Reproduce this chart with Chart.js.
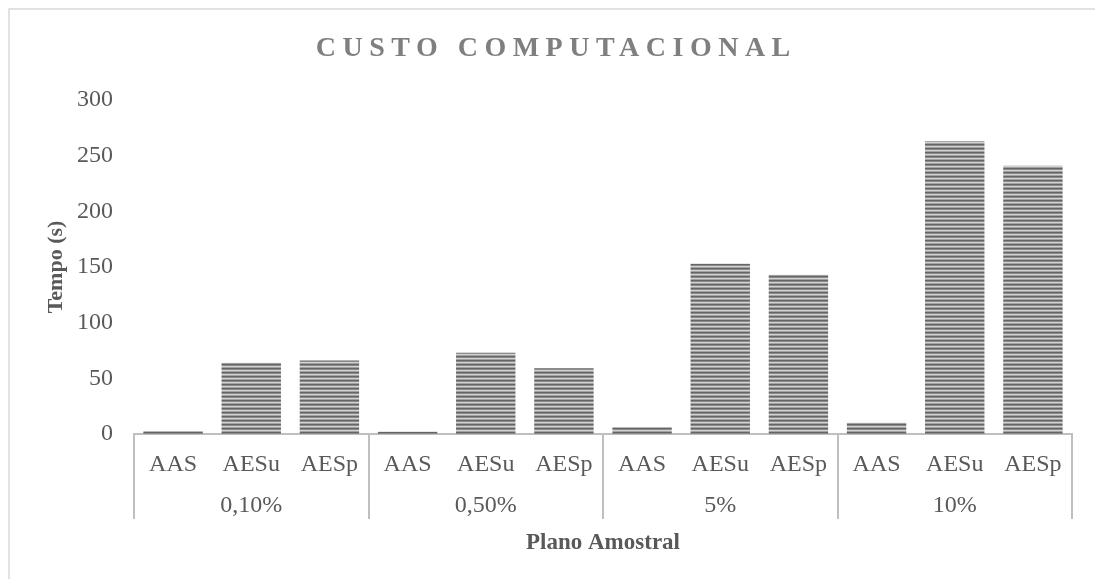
<!DOCTYPE html>
<html>
<head>
<meta charset="utf-8">
<title>Custo Computacional</title>
<script src="https://cdn.jsdelivr.net/npm/chart.js@4.4.1/dist/chart.umd.min.js"></script>
<style>
  html, body { margin: 0; padding: 0; background: #ffffff; }
  #wrap { width: 1095px; height: 579px; position: relative; }
</style>
</head>
<body>
<div id="wrap"><canvas id="custo"></canvas></div>
<script>
// Chart data
const methods = ['AAS', 'AESu', 'AESp'];
const samplePlans = ['0,10%', '0,50%', '5%', '10%'];
const tempos = [2.5, 64, 66, 2, 73, 59, 6, 153, 143, 10, 263, 241];
const yTicks = [0, 50, 100, 150, 200, 250, 300];

// two-line labels: method on top, sample plan under the middle bar of each group
const labels = [];
samplePlans.forEach(function (plan) {
  methods.forEach(function (m, j) {
    labels.push([m, j === 1 ? plan : '']);
  });
});

const FONT = "'Liberation Serif', 'Times New Roman', serif";
const TEXT = '#595959';
const LINE = '#bfbfbf';

// striped grey fill like the original bars
function stripePattern() {
  const tile = document.createElement('canvas');
  tile.width = 4;
  tile.height = 4;
  const t = tile.getContext('2d');
  const rows = ['#656565', '#8a8a8a', '#d2d2d2', '#a2a2a2'];
  rows.forEach(function (c, i) {
    t.fillStyle = c;
    t.fillRect(0, i, 4, 1);
  });
  return t.createPattern(tile, 'repeat');
}

// frame and spaced-out title
const decorations = {
  id: 'decorations',
  beforeDraw: function (chart) {
    const ctx = chart.ctx;
    ctx.save();
    ctx.strokeStyle = '#d9d9d9';
    ctx.lineWidth = 1.5;
    ctx.strokeRect(9, 9, 2000, 2000);
    ctx.restore();
  },
  afterDraw: function (chart) {
    const ctx = chart.ctx;
    const text = 'CUSTO COMPUTACIONAL';
    const spacing = 6.5;
    ctx.save();
    ctx.font = 'bold 28px ' + FONT;
    ctx.fillStyle = '#7f7f7f';
    ctx.letterSpacing = spacing + 'px';
    ctx.textBaseline = 'middle';
    ctx.textAlign = 'left';
    const w = ctx.measureText(text).width - spacing;
    ctx.fillText(text, 553 - w / 2, 49);
    ctx.restore();
  }
};

Chart.defaults.font.family = FONT;
Chart.defaults.color = TEXT;

const custoChart = new Chart(document.getElementById('custo'), {
  type: 'bar',
  data: {
    labels: labels,
    datasets: [{
      label: 'Tempo (s)',
      data: tempos,
      backgroundColor: stripePattern(),
      borderWidth: 0,
      barPercentage: 0.76,
      categoryPercentage: 1
    }]
  },
  options: {
    responsive: true,
    maintainAspectRatio: false,
    animation: false,
    layout: {
      padding: { top: 100, right: 23, bottom: 18, left: 43 }
    },
    plugins: {
      legend: { display: false },
      tooltip: { enabled: false }
    },
    scales: {
      x: {
        afterFit: function (scale) {
          scale.height = 127;
        },
        grid: {
          offset: true,
          drawOnChartArea: false,
          drawTicks: true,
          tickLength: 85,
          lineWidth: 2,
          color: function (c) {
            return (c.index === undefined || c.index % 3 === 0) ? LINE : 'rgba(0,0,0,0)';
          }
        },
        border: { display: true, color: LINE, width: 2 },
        ticks: {
          padding: -74.5,
          maxRotation: 0,
          autoSkip: false,
          color: TEXT,
          font: { size: 24, lineHeight: 41 / 24 }
        },
        title: {
          display: true,
          text: 'Plano Amostral',
          color: TEXT,
          font: { size: 23, weight: 'bold' },
          padding: { top: 3, bottom: 4 }
        }
      },
      y: {
        min: 0,
        max: 300,
        afterBuildTicks: function (scale) {
          scale.ticks = yTicks.map(function (v) { return { value: v }; });
        },
        afterFit: function (scale) {
          scale.width = 91;
        },
        grid: { display: false, drawTicks: false },
        border: { display: false },
        ticks: {
          padding: 21,
          color: TEXT,
          font: { size: 24 }
        },
        title: {
          display: true,
          text: 'Tempo (s)',
          color: TEXT,
          font: { size: 22, weight: 'bold' },
          padding: { top: 0, bottom: 8 }
        }
      }
    }
  },
  plugins: [decorations]
});
</script>
</body>
</html>
